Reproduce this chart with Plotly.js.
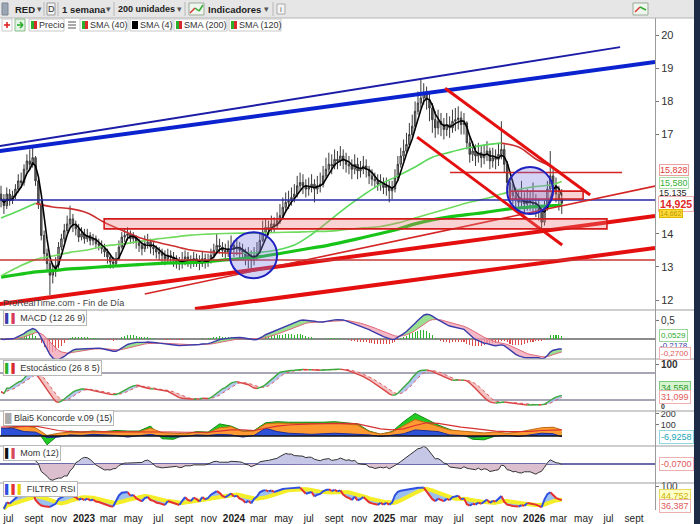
<!DOCTYPE html>
<html><head><meta charset="utf-8">
<script src="https://cdn.plot.ly/plotly-3.0.1.min.js"></script>
<style>html,body{margin:0;padding:0;background:#fff;overflow:hidden}#chart{width:700px;height:524px}</style>
</head><body><div id="chart"></div>
<script>
// ---------------- DATA (weekly bars) ----------------
const firstWeek = '2022-06-13';
const firstOpen = 15.20;
const close = [
15.05,14.85,15.20,15.00,15.15,15.35,15.60,15.55,15.95,16.20,
16.10,16.30,15.60,14.90,13.95,13.40,13.10,12.75,12.90,13.05,
13.60,13.85,14.10,14.30,14.45,14.25,14.15,13.90,14.00,13.85,
13.95,13.80,13.85,13.70,13.65,13.55,13.45,13.30,13.15,13.10,
13.25,13.60,13.90,13.95,14.00,13.85,13.90,13.75,13.65,13.55,
13.70,13.75,13.60,13.55,13.45,13.40,13.35,13.25,13.35,13.30,
13.20,13.15,13.10,13.20,13.30,13.20,13.15,13.25,13.20,13.10,
13.25,13.15,13.20,13.35,13.50,13.65,13.60,13.50,13.45,13.55,
13.65,13.55,13.60,13.50,13.45,13.30,13.35,13.20,13.35,13.45,
13.80,14.05,14.20,14.15,14.30,14.25,14.40,14.55,14.80,14.95,
15.00,15.10,15.20,15.45,15.55,15.45,15.35,15.40,15.50,15.35,
15.45,15.50,15.75,15.95,16.10,16.05,16.25,16.20,16.35,16.20,
16.10,16.05,15.95,16.10,15.90,15.95,16.05,15.95,15.75,15.65,
15.60,15.50,15.55,15.40,15.45,15.30,15.35,15.70,16.10,16.35,
16.50,16.70,17.00,17.25,17.70,17.95,18.10,18.25,18.05,17.80,
17.45,17.20,17.40,17.30,17.15,17.30,17.20,17.40,17.45,17.50,
17.30,17.35,16.75,16.40,16.50,16.35,16.45,16.30,16.40,16.50,
16.20,16.30,16.25,16.40,16.55,16.10,15.55,15.30,15.15,15.05,
14.95,15.00,14.90,15.00,14.95,14.90,14.85,14.70,14.35,14.75,
15.35,15.75,15.45,15.20,15.05,14.925];
const high = [
15.45,15.20,15.40,15.35,15.30,15.50,15.80,15.85,16.10,16.40,
16.55,16.60,16.35,15.70,15.00,14.10,13.55,13.20,13.10,13.30,
13.75,14.00,14.30,14.55,14.85,14.60,14.40,14.30,14.20,14.15,
14.15,14.05,14.00,13.95,13.85,13.80,13.70,13.55,13.40,13.30,
13.45,13.80,14.05,14.15,14.20,14.10,14.05,13.95,13.85,13.80,
13.95,14.00,13.85,13.75,13.65,13.60,13.55,13.50,13.55,13.50,
13.45,13.35,13.30,13.45,13.50,13.45,13.35,13.45,13.40,13.35,
13.45,13.40,13.40,13.55,13.70,14.00,13.85,13.75,13.70,13.80,
13.95,13.80,13.85,13.75,13.70,13.55,13.60,13.50,13.60,13.75,
14.05,14.40,14.45,14.40,14.55,14.50,14.65,14.90,15.10,15.25,
15.30,15.40,15.50,15.75,15.85,15.80,15.65,15.70,15.80,15.65,
15.75,15.85,16.05,16.30,16.45,16.40,16.55,16.50,16.65,16.55,
16.45,16.35,16.25,16.40,16.30,16.20,16.35,16.25,16.05,15.95,
15.85,15.80,15.80,15.70,15.70,15.60,15.60,15.95,16.35,16.60,
16.85,17.05,17.35,17.60,18.00,18.30,18.65,18.55,18.45,18.25,
17.95,17.70,17.75,17.65,17.50,17.65,17.55,17.75,17.80,17.85,
17.70,17.65,17.40,16.90,16.80,16.70,16.75,16.65,16.70,16.80,
16.60,16.60,16.55,16.75,17.40,16.70,16.20,15.70,15.50,15.40,
15.30,15.60,15.25,15.35,15.30,15.55,15.20,15.05,14.80,15.00,
15.60,16.50,15.95,15.70,15.45,15.35];
const low = [
14.80,14.60,14.75,14.85,14.90,15.05,15.25,15.40,15.45,15.85,
15.95,16.00,15.45,14.75,13.80,13.20,12.85,12.15,12.50,12.70,
12.95,13.50,13.75,14.00,14.20,14.05,13.95,13.75,13.80,13.70,
13.75,13.65,13.65,13.55,13.50,13.40,13.30,13.10,12.95,12.95,
13.00,13.20,13.55,13.75,13.80,13.70,13.70,13.55,13.45,13.35,
13.45,13.55,13.40,13.35,13.25,13.20,13.15,13.05,13.10,13.10,
13.00,12.95,12.90,12.95,13.05,13.00,12.95,13.00,13.00,12.90,
13.00,12.95,13.00,13.10,13.25,13.40,13.40,13.30,13.25,13.30,
13.40,13.30,13.35,13.25,13.20,13.05,12.95,12.90,13.05,13.20,
13.40,13.75,13.95,13.95,14.05,14.05,14.15,14.30,14.45,14.65,
14.75,14.85,14.95,15.10,15.30,15.20,15.10,15.15,15.25,14.95,
15.20,15.25,15.40,15.65,15.85,15.80,15.95,15.95,16.05,15.95,
15.85,15.80,15.65,15.80,15.65,15.70,15.80,15.70,15.50,15.45,
15.40,15.30,15.30,15.20,15.15,14.95,15.05,15.25,15.60,16.00,
16.20,16.40,16.60,16.90,17.15,17.60,17.80,17.90,17.75,17.40,
17.05,16.90,17.00,16.95,16.85,16.95,16.90,17.05,17.10,17.15,
17.00,17.00,16.55,16.15,16.20,16.05,16.15,16.00,16.10,16.20,
15.95,16.00,15.95,16.05,16.25,15.85,15.35,15.05,14.90,14.80,
14.70,14.75,14.65,14.70,14.70,14.60,14.50,14.40,14.10,14.25,
14.70,15.25,15.25,14.95,14.70,14.60];

// long moving averages (at these bar indices)
const smaIdx = [0,6,12,18,24,30,36,42,48,54,60,66,72,78,84,90,96,102,108,114,120,126,132,138,144,150,156,162,168,174,180,186,192,195];
const sma40  = [14.48,14.69,14.92,14.81,14.76,14.63,14.34,14.11,13.89,13.75,13.63,13.51,13.45,13.42,13.41,13.44,13.51,13.66,13.98,14.38,14.80,15.17,15.50,15.75,16.02,16.31,16.46,16.59,16.68,16.74,16.62,16.26,16.00,15.828];
const sma120 = [12.73,13.00,13.22,13.33,13.44,13.51,13.63,13.69,13.77,13.84,13.90,13.96,13.99,14.01,14.02,14.02,14.04,14.05,14.07,14.08,14.13,14.18,14.22,14.33,14.48,14.63,14.78,14.93,15.05,15.20,15.34,15.43,15.49,15.58];
const sma200 = [12.69,12.77,12.85,12.89,12.94,12.97,13.01,13.04,13.07,13.10,13.12,13.13,13.16,13.21,13.25,13.31,13.39,13.48,13.57,13.66,13.77,13.89,14.01,14.14,14.30,14.42,14.51,14.58,14.64,14.72,14.78,14.82,14.85,14.87];

// Koncorde (at these bar indices)
const kIdx = [0,4,8,12,16,20,24,28,32,36,40,44,48,52,56,60,64,68,72,76,80,84,88,92,96,100,104,108,112,116,120,124,128,132,136,140,144,148,152,156,160,164,168,172,176,180,184,188,192,195];
const kVerde  = [60,80,100,70,-80,10,45,35,45,40,50,45,45,90,-25,-30,15,40,35,110,90,45,50,120,130,125,125,120,125,130,120,110,45,15,40,130,205,150,100,60,20,-30,-35,0,20,30,45,60,75,30];
const kMarron = [55,75,92,75,5,25,36,30,42,38,42,40,38,72,30,27,20,35,28,75,85,40,45,110,118,115,112,110,112,118,112,100,40,18,36,90,150,120,85,55,45,36,28,36,25,36,55,75,80,55];
const kAzul   = [70,70,40,35,-15,-10,10,5,15,10,5,-10,5,15,-5,-10,-5,10,5,15,10,-10,5,70,40,25,20,15,20,25,20,15,10,-5,5,20,55,50,40,10,5,-10,-5,0,5,-5,10,25,20,-7];
const kMedia  = [80,82,88,90,70,50,40,36,36,38,38,36,38,42,40,36,34,32,34,45,55,55,50,70,90,100,108,110,112,115,115,110,85,65,55,65,95,120,115,95,80,70,55,45,40,40,42,50,55,55];

// drawn objects (dates / prices)
const trendLines = [
  {d0:'2022-06-10', p0:16.65, d1:'2026-07-29', p1:19.64, c:'#1c1ca8', w:2},
  {d0:'2022-06-10', p0:16.50, d1:'2026-10-22', p1:19.19, c:'#0b22cf', w:4},
  {d0:'2022-06-10', p0:15.02, d1:'2026-10-22', p1:15.02, c:'#2626a6', w:1.6},
  {d0:'2022-06-10', p0:11.88, d1:'2026-10-22', p1:14.54, c:'#e41010', w:4},
  {d0:'2023-09-28', p0:11.73, d1:'2026-10-22', p1:13.57, c:'#e41010', w:4},
  {d0:'2023-05-29', p0:12.18, d1:'2026-10-22', p1:15.44, c:'#d42424', w:1.6},
  {d0:'2022-06-10', p0:13.21, d1:'2026-10-22', p1:13.21, c:'#c83434', w:1.6},
  {d0:'2025-06-10', p0:15.85, d1:'2026-08-03', p1:15.85, c:'#d42424', w:1.6},
  {d0:'2025-05-29', p0:18.40, d1:'2026-05-17', p1:15.17, c:'#e41010', w:3},
  {d0:'2025-03-22', p0:16.92, d1:'2026-03-10', p1:13.66, c:'#e41010', w:3}
];
const zones = [
  {d0:'2023-02-19', p0:14.45, d1:'2026-06-27', p1:14.15},
  {d0:'2025-11-03', p0:15.29, d1:'2026-04-30', p1:15.05}
];
const circles = [
  {d0:'2023-12-22', p0:14.05, d1:'2024-04-15', p1:12.66},
  {d0:'2025-10-27', p0:16.02, d1:'2026-02-16', p1:14.60}
];

// price tick labels (15 and 16 sit under the value boxes in the picture)
const priceTicks = [12,13,14,17,18,19,20];
const xTickVals = ['2022-07-01','2022-09-01','2022-11-01','2023-01-01','2023-03-01','2023-05-01','2023-07-01','2023-09-01','2023-11-01','2024-01-01','2024-03-01','2024-05-01','2024-07-01','2024-09-01','2024-11-01','2025-01-01','2025-03-01','2025-05-01','2025-07-01','2025-09-01','2025-11-01','2026-01-01','2026-03-01','2026-05-01','2026-07-01','2026-09-01'];
const xTickText = ['jul','sept','nov','<b>2023</b>','mar','may','jul','sept','nov','<b>2024</b>','mar','may','jul','sept','nov','<b>2025</b>','mar','may','jul','sept','nov','<b>2026</b>','mar','may','jul','sept'];

// ---------------- helpers ----------------
const W = 700, H = 524;
const PX = p => p / W, PY = p => 1 - p / H;
const FONT = 'Liberation Sans, Arial, sans-serif';
const d0 = new Date(firstWeek + 'T00:00:00Z').getTime();
const dates = close.map((_, i) => new Date(d0 + i * 7 * 86400000).toISOString().slice(0, 10));
const open = close.map((c, i) => i === 0 ? firstOpen : close[i - 1]);

function sma(arr, n) {
  return arr.map((v, i) => {
    const a = arr.slice(Math.max(0, i - n + 1), i + 1).filter(x => x != null);
    return a.length ? a.reduce((s, x) => s + x, 0) / a.length : null;
  });
}
function ema(arr, n) {
  const k = 2 / (n + 1); let prev = null;
  return arr.map(v => { if (v == null) return null; prev = prev == null ? v : v * k + prev * (1 - k); return prev; });
}
function rsi(c, p) {
  const out = [null]; let ag = 0, al = 0;
  for (let i = 1; i < c.length; i++) {
    const ch = c[i] - c[i - 1], g = Math.max(ch, 0), l = Math.max(-ch, 0);
    if (i === 1) { ag = g; al = l; } else { ag = (ag * (p - 1) + g) / p; al = (al * (p - 1) + l) / p; }
    out.push(al === 0 ? 100 : 100 - 100 / (1 + ag / al));
  }
  return out;
}
function splitDir(xs, ys) {
  const up = {x: [], y: []}, dn = {x: [], y: []}; let lu = -2, ld = -2;
  for (let i = 0; i < ys.length - 1; i++) {
    if (ys[i] == null || ys[i + 1] == null) continue;
    const r = ys[i + 1] >= ys[i], t = r ? up : dn, last = r ? lu : ld;
    if (last !== i) { if (t.x.length) { t.x.push(null); t.y.push(null); } t.x.push(xs[i]); t.y.push(ys[i]); }
    t.x.push(xs[i + 1]); t.y.push(ys[i + 1]);
    if (r) lu = i + 1; else ld = i + 1;
  }
  return [up, dn];
}
function lineT(x, y, ya, color, width, extra) {
  return Object.assign({type: 'scatter', mode: 'lines', x, y, xaxis: 'x', yaxis: ya,
    line: {color, width, shape: (extra && extra.shape) || 'linear', dash: (extra && extra.dash) || 'solid'},
    hoverinfo: 'skip', connectgaps: false}, extra ? (({shape, dash, ...r}) => r)(extra) : {});
}
const T = [];
function dirLines(xs, ys, ya, cUp, cDn, w, shape) {
  const [u, d] = splitDir(xs, ys);
  T.push(lineT(d.x, d.y, ya, cDn, w, {shape}));
  T.push(lineT(u.x, u.y, ya, cUp, w, {shape}));
}

// ---------------- indicators from the price data ----------------
const sma4 = sma(close, 4);
const e12 = ema(close, 12), e26 = ema(close, 26);
const macd = e12.map((v, i) => v - e26[i]);
const sig = ema(macd, 9);
const hist = macd.map((v, i) => v - sig[i]);
const rawK = close.map((c, i) => {
  const a = Math.max(0, i - 25);
  const hh = Math.max(...high.slice(a, i + 1)), ll = Math.min(...low.slice(a, i + 1));
  return hh === ll ? 50 : (c - ll) / (hh - ll) * 100;
});
const stK = sma(rawK, 8), stD = sma(stK, 5);
const mom = close.map((c, i) => i >= 12 ? c - close[i - 12] : null);
const rsiV = rsi(close, 5);
const rsiSig = sma(rsiV, 10);

// ---------------- traces ----------------
const smaDates = smaIdx.map(i => dates[i]);
dirLines(smaDates, sma200, 'y', '#18c418', '#d42a2a', 3.2, 'spline');
dirLines(smaDates, sma120, 'y', '#72da5e', '#d84040', 1.6, 'spline');
dirLines(smaDates, sma40, 'y', '#5ad85a', '#cc3030', 1.6, 'spline');
T.push({type: 'candlestick', x: dates, open, high, low, close, xaxis: 'x', yaxis: 'y',
  increasing: {line: {color: '#3a3a3a', width: 1}, fillcolor: '#bdbdbd'},
  decreasing: {line: {color: '#3a3a3a', width: 1}, fillcolor: '#6a6a6a'},
  whiskerwidth: 0, hoverinfo: 'skip'});
T.push(lineT(dates, sma4, 'y', '#000000', 1.6));

// MACD
const mx = macd.map((m, i) => Math.max(m, sig[i])), mn = macd.map((m, i) => Math.min(m, sig[i]));
T.push(lineT(dates, sig, 'y2', 'rgba(0,0,0,0)', 0));
T.push(lineT(dates, mx, 'y2', 'rgba(0,0,0,0)', 0, {fill: 'tonexty', fillcolor: 'rgba(120,212,110,0.75)'}));
T.push(lineT(dates, sig, 'y2', 'rgba(0,0,0,0)', 0));
T.push(lineT(dates, mn, 'y2', 'rgba(0,0,0,0)', 0, {fill: 'tonexty', fillcolor: 'rgba(240,160,180,0.75)'}));
T.push({type: 'bar', x: dates, y: hist, xaxis: 'x', yaxis: 'y2', width: 2.5 * 86400000,
  marker: {color: hist.map(h => h >= 0 ? '#2fb42f' : '#dd4a4a'), line: {width: 0}}, hoverinfo: 'skip'});
T.push(lineT(dates, sig, 'y2', '#e06a7a', 1));
T.push(lineT(dates, macd, 'y2', '#3b3bab', 1.4));

// Stochastic
const kx = stK.map((k, i) => Math.max(k, stD[i])), kn = stK.map((k, i) => Math.min(k, stD[i]));
T.push(lineT(dates, stD, 'y3', 'rgba(0,0,0,0)', 0));
T.push(lineT(dates, kx, 'y3', 'rgba(0,0,0,0)', 0, {fill: 'tonexty', fillcolor: 'rgba(150,175,235,0.7)'}));
T.push(lineT(dates, stD, 'y3', 'rgba(0,0,0,0)', 0));
T.push(lineT(dates, kn, 'y3', 'rgba(0,0,0,0)', 0, {fill: 'tonexty', fillcolor: 'rgba(240,170,170,0.7)'}));
T.push(lineT(dates, stD, 'y3', '#e05a5a', 1, {dash: 'dot'}));
dirLines(dates, stK, 'y3', '#3aa83a', '#d94545', 1.4);

// Koncorde
const kDates = kIdx.map(i => dates[i]);
T.push(lineT(kDates, kVerde, 'y4', '#0f8a0f', 1, {fill: 'tozeroy', fillcolor: '#22cc22'}));
T.push(lineT(kDates, kMarron, 'y4', '#c26a12', 1, {fill: 'tozeroy', fillcolor: '#ff9a33'}));
T.push(lineT(kDates, kAzul, 'y4', '#1b2f98', 1, {fill: 'tozeroy', fillcolor: '#2d52d8'}));
T.push(lineT(kDates, kMedia, 'y4', '#d83030', 1.2));

// Momentum
T.push(lineT(dates, mom.map(v => v == null ? null : Math.max(v, 0)), 'y5', 'rgba(0,0,0,0)', 0, {fill: 'tozeroy', fillcolor: '#c6c6e6'}));
T.push(lineT(dates, mom.map(v => v == null ? null : Math.min(v, 0)), 'y5', 'rgba(0,0,0,0)', 0, {fill: 'tozeroy', fillcolor: '#dcbfcf'}));
T.push(lineT(dates, mom, 'y5', '#333333', 1));

// Filtro RSI
T.push(lineT(dates, rsiSig, 'y6', '#f4ee2a', 4));
T.push(lineT(dates, rsiV, 'y6', 'rgba(0,0,0,0)', 0, {fill: 'tonexty', fillcolor: 'rgba(130,175,235,0.8)'}));
T.push(lineT(dates, rsiSig, 'y6', '#f4ee2a', 3));
dirLines(dates, rsiV, 'y6', '#2f4fe0', '#e43030', 2);

// ---------------- layout ----------------
const XD = [0, 655 / W];
function yax(top, bot, range, tv, tt, extra) {
  return Object.assign({domain: [PY(bot), PY(top)], range, side: 'right', anchor: 'x', showgrid: false, zeroline: false,
    showline: true, linecolor: '#9a9a9a', linewidth: 1, ticks: 'outside', ticklen: 3, tickcolor: '#777',
    tickvals: tv, ticktext: tt, tickfont: {family: FONT, size: 10, color: '#333'}, fixedrange: true}, extra || {});
}
const shapes = [];
const annotations = [];
function rectPx(x0, y0, x1, y1, fill, lc, lw) {
  shapes.push({type: 'rect', xref: 'paper', yref: 'paper', x0: PX(x0), x1: PX(x1), y0: PY(y1), y1: PY(y0),
    fillcolor: fill, line: {color: lc || 'rgba(0,0,0,0)', width: lw == null ? 1 : lw}, layer: 'above'});
}
function linePx(x0, y0, x1, y1, c, w) {
  shapes.push({type: 'line', xref: 'paper', yref: 'paper', x0: PX(x0), x1: PX(x1), y0: PY(y0), y1: PY(y1),
    line: {color: c, width: w || 1}, layer: 'above'});
}
function txt(x, y, text, o) {
  o = o || {};
  annotations.push({xref: 'paper', yref: 'paper', x: PX(x), y: PY(y), text, showarrow: false,
    xanchor: o.xa || 'left', yanchor: 'middle',
    font: {family: FONT, size: o.size || 10, color: o.color || '#222'},
    bgcolor: o.bg || 'rgba(0,0,0,0)', bordercolor: o.bc || 'rgba(0,0,0,0)', borderwidth: o.bc ? 1 : 0, borderpad: o.pad == null ? 1 : o.pad});
}

// drawn lines / zones / circles on the price panel
trendLines.forEach(t => shapes.push({type: 'line', xref: 'x', yref: 'y', x0: t.d0, y0: t.p0, x1: t.d1, y1: t.p1,
  line: {color: t.c, width: t.w}, layer: 'above'}));
zones.forEach(z => shapes.push({type: 'rect', xref: 'x', yref: 'y', x0: z.d0, y0: z.p0, x1: z.d1, y1: z.p1,
  fillcolor: 'rgba(236,120,120,0.33)', line: {color: '#d41a1a', width: 1.6}, layer: 'above'}));
circles.forEach(c => shapes.push({type: 'circle', xref: 'x', yref: 'y', x0: c.d0, y0: c.p0, x1: c.d1, y1: c.p1,
  fillcolor: 'rgba(120,120,225,0.33)', line: {color: '#2020c0', width: 2}, layer: 'above'}));
// reference lines in indicator panels
shapes.push({type: 'line', xref: 'paper', yref: 'y2', x0: 0, x1: XD[1], y0: 0, y1: 0, line: {color: '#8c8c8c', width: 2}, layer: 'below'});
shapes.push({type: 'line', xref: 'paper', yref: 'y3', x0: 0, x1: XD[1], y0: 80, y1: 80, line: {color: '#4c4c6c', width: 1}, layer: 'below'});
shapes.push({type: 'line', xref: 'paper', yref: 'y3', x0: 0, x1: XD[1], y0: 20, y1: 20, line: {color: '#4c4c6c', width: 1}, layer: 'below'});
shapes.push({type: 'line', xref: 'paper', yref: 'y4', x0: 0, x1: PX(562), y0: 0, y1: 0, line: {color: '#111', width: 1.6}, layer: 'above'});
shapes.push({type: 'line', xref: 'paper', yref: 'y5', x0: 0, x1: XD[1], y0: 0, y1: 0, line: {color: '#38388c', width: 1.5}, layer: 'below'});

// panel separators
[310, 359, 411, 446, 483].forEach(y => linePx(0, y, 694, y, '#9c9c9c', 1));

// toolbar
rectPx(0, 0, 700, 18, '#e6e6e6', null, 0);
linePx(0, 18, 700, 18, '#b4b4b4', 1);
rectPx(2, 3, 8, 15, '#9aa6b4', '#7a8694', 1);
txt(14, 9, '<b>RED</b>', {size: 9.5});
txt(36, 9, '▾', {size: 9, color: '#555'});
[44, 58, 114, 185, 273].forEach(x => linePx(x, 2, x, 16, '#b8b8b8', 1));
rectPx(47, 3, 55, 15, '#f4f4f4', '#999', 1);
txt(51, 9, 'D', {size: 9, xa: 'center', color: '#333'});
txt(61, 9, '<b>1 semana</b>', {size: 9.5});
txt(105, 9, '▾', {size: 9, color: '#555'});
txt(117, 9, '<b>200 unidades</b>', {size: 9});
txt(176, 9, '▾', {size: 9, color: '#555'});
rectPx(189, 3, 204, 15, '#eef6ee', '#9a9', 1);
linePx(190, 13, 195, 8, '#d33', 1.5); linePx(195, 8, 199, 11, '#3a3', 1.5); linePx(199, 11, 203, 5, '#3a3', 1.5);
txt(207, 9, '<b>Indicadores</b>', {size: 9.5});
txt(263, 9, '▾', {size: 9, color: '#555'});
rectPx(277, 4, 285, 14, '#f4f4f4', '#aaa', 1);
txt(281, 9, 'i', {size: 8, xa: 'center', color: '#666'});
rectPx(633, 3, 648, 15, '#eef6ee', '#9a9', 1);
linePx(635, 12, 640, 7, '#d33', 1.5); linePx(640, 7, 646, 10, '#3a3', 1.5);
// right dark strip
rectPx(694, 0, 700, 524, '#1e2b47', null, 0);

// legend row (boxes and icons as shapes, text as annotations)
rectPx(2, 19, 12, 31, '#ffffff', '#c8c8c8', 1);
linePx(4, 25, 10, 25, '#d22', 1.6); linePx(7, 22, 7, 28, '#d22', 1.6);
rectPx(15, 19, 25, 31, '#e4f4e4', '#8b8', 1);
linePx(17, 25, 23, 25, '#2a2', 1.5); linePx(20, 22, 23, 25, '#2a2', 1.5); linePx(20, 28, 23, 25, '#2a2', 1.5);
const legendItems = [
  {x0: 29, x1: 64, label: 'Precio', c1: '#2bb02b', c2: '#d82a2a'},
  {x0: 80, x1: 128, label: 'SMA (40)', c1: '#2bb02b', c2: '#d82a2a'},
  {x0: 130, x1: 172, label: 'SMA (4)', c1: '#000000', c2: '#000000'},
  {x0: 174, x1: 227, label: 'SMA (200)', c1: '#2bb02b', c2: '#d82a2a'},
  {x0: 229, x1: 281, label: 'SMA (120)', c1: '#2bb02b', c2: '#d82a2a'}
];
legendItems.forEach(it => {
  rectPx(it.x0, 19, it.x1, 31, '#ffffff', '#c8c8c8', 1);
  rectPx(it.x0 + 2, 21, it.x0 + 5, 29, it.c1, null, 0);
  rectPx(it.x0 + 5, 21, it.x0 + 8, 29, it.c2, null, 0);
  txt(it.x0 + 9, 25, it.label, {size: 9, color: '#333'});
});
linePx(68, 22, 76, 22, '#555', 1); linePx(68, 25, 76, 25, '#555', 1); linePx(68, 28, 76, 28, '#555', 1);

// panel titles
txt(2, 303, 'ProRealTime.com - Fin de Día', {size: 9, color: '#444'});
txt(3, 318, '<span style="color:#3b3bab">▌</span><span style="color:#d83a5a">▌</span> MACD (12 26 9)', {size: 9, color: '#333', bg: '#fff', bc: '#b8b8b8'});
txt(3, 368, '<span style="color:#2bb02b">▌</span><span style="color:#d82a2a">▌</span> Estocástico (26 8 5)', {size: 9, color: '#333', bg: '#fff', bc: '#b8b8b8'});
txt(3, 418, '<span style="color:#aaaaaa">█</span> Blai5 Koncorde v.09 (15)', {size: 9, color: '#333', bg: '#fff', bc: '#b8b8b8'});
txt(3, 453, '<span style="color:#111">▌</span><span style="color:#d84a5a">▌</span> Mom (12)', {size: 9, color: '#333', bg: '#fff', bc: '#b8b8b8'});
txt(3, 489, '<span style="color:#2f4fe0">▌</span><span style="color:#e43030">▌</span><span style="color:#e8d800">▌</span> FILTRO RSI', {size: 9, color: '#333', bg: '#fff', bc: '#b8b8b8'});

// right-side value labels
txt(659, 170, '15,828', {size: 9, color: '#e03a3a', bg: '#fff', bc: '#e8a0a0', pad: 0});
txt(659, 182.5, '15,580', {size: 9, color: '#35b035', bg: '#fff', bc: '#a8e0a8', pad: 0});
txt(659, 193, '15,135', {size: 9, color: '#222', pad: 0});
txt(658, 204, '<b>14,925</b>', {size: 10.5, color: '#e02828', bg: '#fff', bc: '#f0b0b0'});
txt(659, 213, '14,662', {size: 7, color: '#b89800', bg: '#ffd83a', bc: '#e0b800', pad: 0});
txt(659, 335.5, '0,0529', {size: 8, color: '#2aa82a', bg: '#fff', bc: '#9ad69a'});
txt(659, 345, '-0,2178', {size: 8, color: '#3a3aa8'});
txt(659, 353.5, '-0,2700', {size: 8, color: '#e05a5a', bg: '#fff', bc: '#f0b0b0'});
txt(659, 388, '34,558', {size: 9, color: '#2a9a2a', bg: '#d6f4d0', bc: '#7acc7a'});
txt(659, 397.5, '31,099', {size: 9, color: '#e05a5a', bg: '#fff', bc: '#f0b0b0'});
txt(660, 406, '<b>0</b>', {size: 7, color: '#333'});
txt(659, 437, '-6,9258', {size: 9, color: '#1aa6b6', bg: '#fff', bc: '#90d8e0'});
txt(659, 464, '-0,0700', {size: 9, color: '#e05a5a', bg: '#fff', bc: '#f0b0b0'});
txt(659, 496, '44,752', {size: 9, color: '#c8b400', bg: '#ffffc8', bc: '#e8dc60'});
txt(659, 505.5, '36,387', {size: 9, color: '#e05a5a', bg: '#fff', bc: '#f0b0b0'});

const layout = {
  width: W, height: H, margin: {l: 0, r: 0, t: 0, b: 0}, paper_bgcolor: '#ffffff', plot_bgcolor: '#ffffff',
  showlegend: false, hovermode: false, dragmode: false, bargap: 0,
  font: {family: FONT, size: 10, color: '#222'},
  xaxis: {type: 'date', domain: XD, range: ['2022-06-10 12:00', '2026-10-22'], anchor: 'free', position: PY(510.5),
    tickvals: xTickVals, ticktext: xTickText, tickangle: 0, ticks: '', showgrid: false, zeroline: false, showline: false,
    tickfont: {family: FONT, size: 10, color: '#222'}, rangeslider: {visible: false}, fixedrange: true},
  yaxis:  yax(18, 310, [11.698, 20.52], priceTicks, priceTicks.map(String), {tickfont: {family: FONT, size: 11, color: '#333'}}),
  yaxis2: yax(310, 359, [-0.526, 0.763], [0.5], ['0,5']),
  yaxis3: yax(359, 411, [-4.44, 111.1], [100], ['<b>100</b>']),
  yaxis4: yax(411, 446, [-91, 227], [200, 100], ['200', '100'], {tickfont: {family: FONT, size: 9, color: '#333'}}),
  yaxis5: yax(446, 483, [-3.17, 3.0], [], []),
  yaxis6: yax(483, 510, [-4.5, 118], [100], ['100']),
  shapes, annotations
};
Plotly.newPlot('chart', T, layout, {staticPlot: true, displayModeBar: false});
</script></body></html>
